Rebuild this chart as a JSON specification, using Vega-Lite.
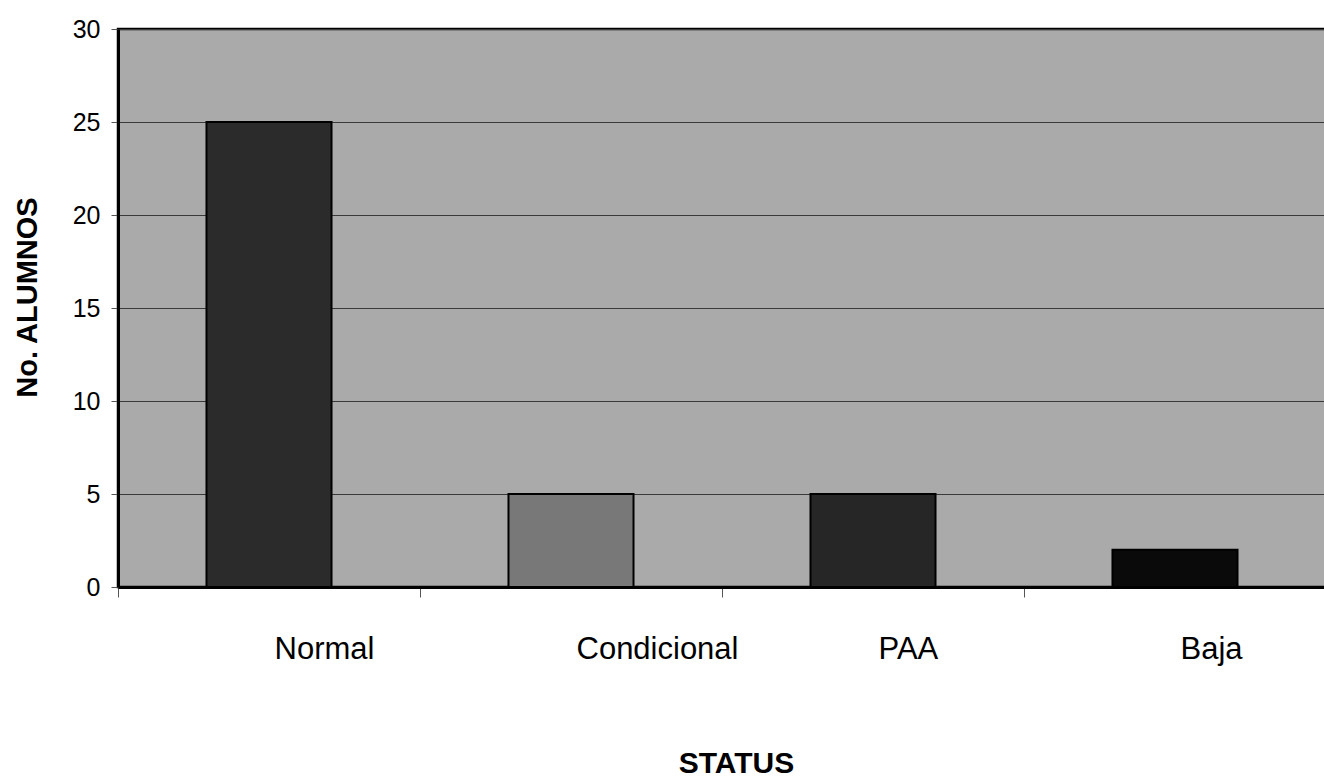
{
  "$schema": "https://vega.github.io/schema/vega-lite/v6.json",
  "autosize": {"type": "none"},
  "width": 1208,
  "height": 558,
  "padding": {"left": 118, "top": 29, "right": 0, "bottom": 191},
  "background": "#ffffff",
  "data": {
    "values": [
      {"status": "Normal", "alumnos": 25},
      {"status": "Condicional", "alumnos": 5},
      {"status": "PAA", "alumnos": 5},
      {"status": "Baja", "alumnos": 2}
    ]
  },
  "config": {
    "font": "Liberation Sans",
    "view": {"fill": "#aaaaaa", "stroke": "#000000", "strokeWidth": 2.5}
  },
  "mark": {"type": "bar", "stroke": "#000000", "strokeWidth": 2},
  "encoding": {
    "x": {
      "field": "status",
      "type": "nominal",
      "sort": null,
      "scale": {"paddingInner": 0.586, "paddingOuter": 0.293},
      "axis": {
        "title": "STATUS",
        "titleFont": "Liberation Sans",
        "titleFontSize": 30,
        "titleFontWeight": "bold",
        "titleColor": "#000000",
        "titleX": 618,
        "titleY": 185,
        "titleBaseline": "alphabetic",
        "titleAlign": "center",
        "labelAngle": 0,
        "labelFontSize": 31,
        "labelColor": "#000000",
        "labelAlign": "left",
        "labelBaseline": "alphabetic",
        "labelOffset": 156,
        "labelPadding": 61,
        "tickOffset": -151,
        "tickSize": 10,
        "tickColor": "#555555",
        "domainColor": "#000000",
        "domainWidth": 3,
        "grid": false
      }
    },
    "y": {
      "field": "alumnos",
      "type": "quantitative",
      "scale": {"domain": [0, 30], "nice": false},
      "axis": {
        "title": "No. ALUMNOS",
        "titleFont": "Liberation Sans",
        "titleFontSize": 29,
        "titleFontWeight": "bold",
        "titleColor": "#000000",
        "titleAngle": 270,
        "titleX": -91,
        "titleY": 268,
        "titleAlign": "center",
        "titleBaseline": "middle",
        "values": [0, 5, 10, 15, 20, 25, 30],
        "labelFontSize": 25,
        "labelColor": "#000000",
        "labelPadding": 11,
        "tickSize": 7,
        "tickColor": "#555555",
        "domainColor": "#000000",
        "domainWidth": 3,
        "grid": true,
        "gridColor": "#3a3a3a",
        "gridWidth": 1
      }
    },
    "color": {
      "field": "status",
      "type": "nominal",
      "scale": {
        "domain": ["Normal", "Condicional", "PAA", "Baja"],
        "range": ["#2b2b2b", "#787878", "#262626", "#0a0a0a"]
      },
      "legend": null
    }
  }
}
